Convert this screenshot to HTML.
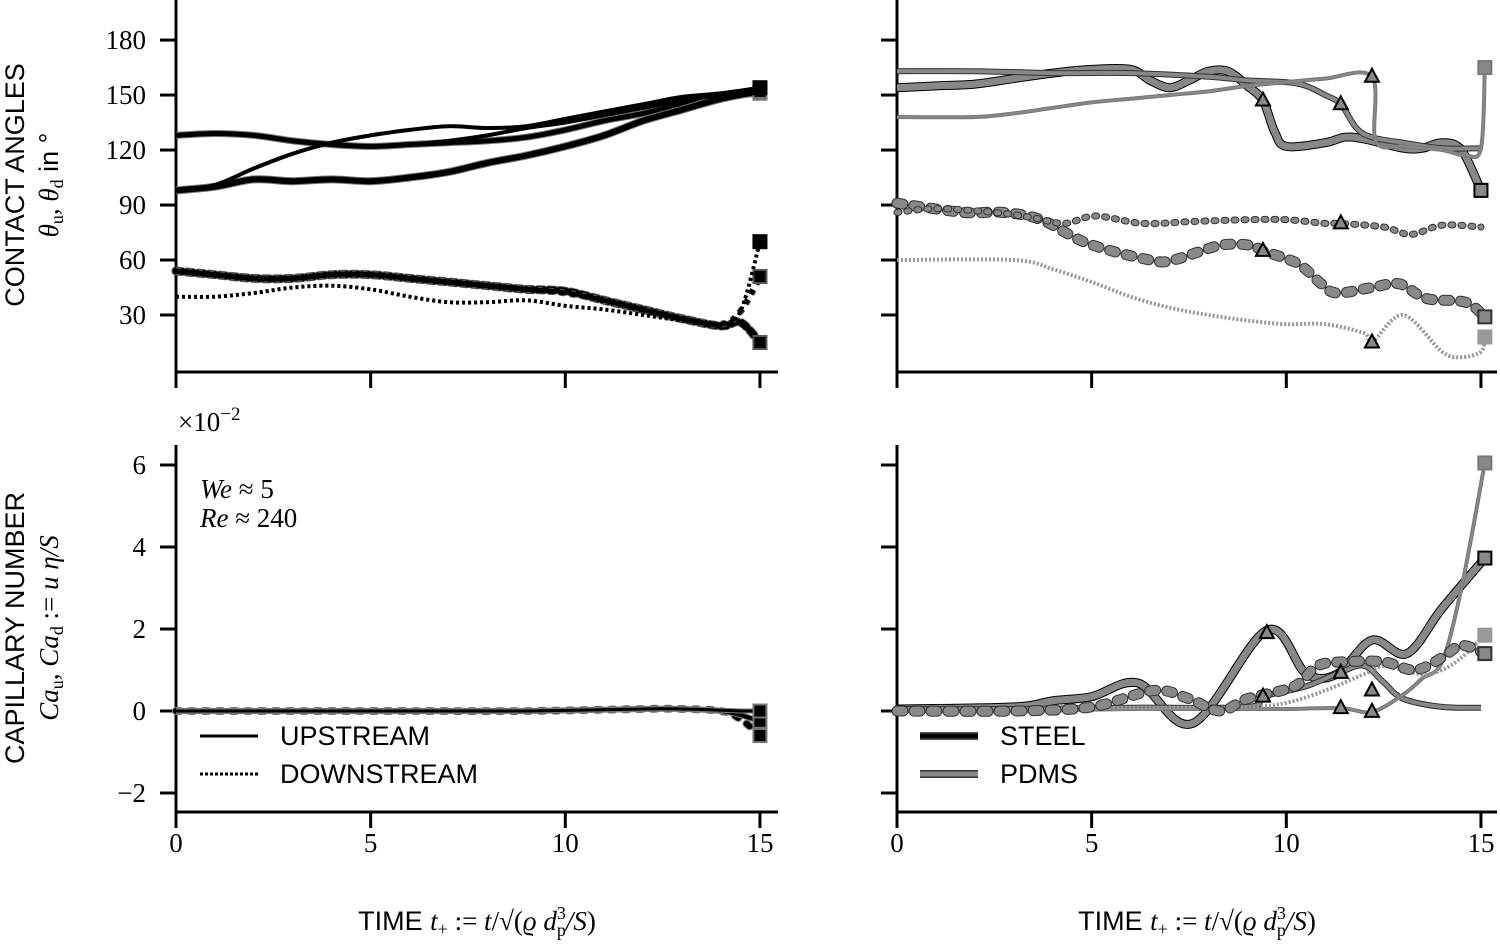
<!DOCTYPE html>
<html><head><meta charset="utf-8"><style>
html,body{margin:0;padding:0;background:#fff;}
svg{display:block;}
.tk{font-family:"Liberation Serif",serif;font-size:27px;fill:#000;}
.lb{font-family:"Liberation Sans",sans-serif;font-size:27px;fill:#000;}
.mt{font-family:"Liberation Serif",serif;font-size:27px;fill:#000;font-style:italic;}
</style></head><body>
<svg id="chart" width="1500" height="950" viewBox="0 0 1500 950" xmlns="http://www.w3.org/2000/svg">
<g id="axes"></g><g id="marks"></g>
<text class="lb" transform="translate(24,185) rotate(-90)" text-anchor="middle">CONTACT ANGLES</text>
<text class="mt" transform="translate(58,185) rotate(-90)" text-anchor="middle">θ<tspan font-style="normal" font-size="18" dy="5">u</tspan><tspan dy="-5">, θ</tspan><tspan font-style="normal" font-size="18" dy="5">d</tspan><tspan font-style="normal" dy="-5" font-family="Liberation Sans"> in °</tspan></text>
<text class="lb" transform="translate(24,628) rotate(-90)" text-anchor="middle">CAPILLARY NUMBER</text>
<text class="mt" transform="translate(58,628) rotate(-90)" text-anchor="middle">Ca<tspan font-style="normal" font-size="18" dy="5">u</tspan><tspan dy="-5">, Ca</tspan><tspan font-style="normal" font-size="18" dy="5">d</tspan><tspan dy="-5" font-style="normal"> := </tspan>u η/S</text>
<text class="tk" x="178" y="431">×10<tspan font-size="19" dy="-11">−2</tspan></text>
<text class="mt" x="200" y="498">We <tspan font-style="normal">≈ 5</tspan></text>
<text class="mt" x="200" y="527">Re <tspan font-style="normal">≈ 240</tspan></text>
<g>
<line x1="200" y1="736" x2="258" y2="736" stroke="#000" stroke-width="3"/>
<text class="lb" x="280" y="745">UPSTREAM</text>
<line x1="200" y1="774" x2="258" y2="774" stroke="#000" stroke-width="3" stroke-dasharray="3,2"/>
<text class="lb" x="280" y="783">DOWNSTREAM</text>
</g>
<g>
<line x1="920" y1="736" x2="978" y2="736" stroke="#555" stroke-width="8"/>
<line x1="920" y1="736" x2="978" y2="736" stroke="#000" stroke-width="5"/>
<text class="lb" x="1000" y="745">STEEL</text>
<line x1="920" y1="774" x2="978" y2="774" stroke="#333" stroke-width="8"/>
<line x1="920" y1="774" x2="978" y2="774" stroke="#888" stroke-width="5"/>
<text class="lb" x="1000" y="783">PDMS</text>
</g>
<text class="lb" x="477" y="930" text-anchor="middle">TIME <tspan font-family="Liberation Serif" font-style="italic">t</tspan><tspan font-family="Liberation Serif" font-size="18" dy="5">+</tspan><tspan font-family="Liberation Serif" dy="-5"> := </tspan><tspan font-family="Liberation Serif" font-style="italic">t</tspan><tspan font-family="Liberation Serif">/√(</tspan><tspan font-family="Liberation Serif" font-style="italic">ϱ d</tspan><tspan font-family="Liberation Serif" font-size="18" dy="-11">3</tspan><tspan font-family="Liberation Serif" font-size="18" dx="-9" dy="17">p</tspan><tspan font-family="Liberation Serif" font-style="italic" dy="-6">/S</tspan><tspan font-family="Liberation Serif">)</tspan></text>
<text class="lb" x="1197" y="930" text-anchor="middle">TIME <tspan font-family="Liberation Serif" font-style="italic">t</tspan><tspan font-family="Liberation Serif" font-size="18" dy="5">+</tspan><tspan font-family="Liberation Serif" dy="-5"> := </tspan><tspan font-family="Liberation Serif" font-style="italic">t</tspan><tspan font-family="Liberation Serif">/√(</tspan><tspan font-family="Liberation Serif" font-style="italic">ϱ d</tspan><tspan font-family="Liberation Serif" font-size="18" dy="-11">3</tspan><tspan font-family="Liberation Serif" font-size="18" dx="-9" dy="17">p</tspan><tspan font-family="Liberation Serif" font-style="italic" dy="-6">/S</tspan><tspan font-family="Liberation Serif">)</tspan></text>
</svg>
<script>
// ---- data ----
const xTicks = [0, 5, 10, 15];
const angleTicks = [30, 60, 90, 120, 150, 180];
const caTicks = [-2, 0, 2, 4, 6];
// left top (steel) angles
const lUpT1 = [0,1,2,3,4,5,6,7,8,9,10,11,12,13,14,15];
const lUpA = [128,129,128,125,123,122,123,124,125,127,131,136,140,145,149,151];
const lUpB = [98,100,104,103,104,103,105,108,113,117,122,128,136,142,148,152];
const lUpC = [98,101,110,118,124,128,131,133,132,133,137,141,145,149,151,154];
const lUpD = [128,129,128,125,123,122,123,125,128,132,135,139,143,147,150,153];
const lDnT = [0,1,2,3,4,5,6,7,8,9,10,11,12,13,14,14.5,15];
const lDnA = [54,52,50,50,52,52,50,48,46,44,43,38,33,28,24,26,15];
const lDnB = [54,52,50,50,52,52,50,48,46,44,42,38,33,28,25,32,51];
const lDnC = [40,40,42,45,46,44,40,37,37,38,35,33,30,27,25,32,70];
// right top
const rSUT = [0,1,2,3,4,5,6,6.5,7,7.5,8,8.5,9,9.4,9.7,10,11,11.5,12,13,13.5,14,14.5,15];
const rSUV = [154,155,156,159,162,164,164,158,154,158,163,163,155,147,130,122,124,127,126,121,121,124,120,98];
const rPUT = [0,2,4,6,8,9,10,10.5,11,11.4,11.8,12.2,13,14,15];
const rPUV = [163,163,162,162,160,158,157,155,150,145,132,127,124,121,121];
const rPU2T = [0,2,3,4,5,6,7,8,9,10,11,12.2,12.3,13,14,14.6,15,15.1];
const rPU2V = [138,138,140,143,146,148,150,152,155,157,159,160,125,122,120,117,121,165];
const rSDT = [0,1.7,2.7,3.7,4.9,6.5,7.1,8.3,9.1,9.4,10.3,10.9,11.3,12.2,12.9,13.6,14.6,15.1];
const rSDV = [91,86,86,82,69,60,60,68,68,65,58,47,42,45,47,39,37,29];
const rMDT = [0,1,2.5,3.5,4.3,5.1,6.3,7.6,9,10,11,11.4,12.5,13.2,14,15];
const rMDV = [86,88,86,83,80,84,80,81,82,82,80,80,78,74,79,78];
const rTDT = [0,3,4,5,6,7,8,9,10,11,12,12.2,13,14,14.5,15,15.1];
const rTDV = [60,60,55,48,40,34,30,27,25,25,20,15,30,10,7,10,18];
// left bottom Ca
const lCaT = [0,3,6,9,12,13,14,14.5,15];
const lCaA = [0,0,0,0,0.05,0.05,0,-0.2,-0.6];
const lCaB = [0,0,0,0,0.05,0.05,0,-0.1,-0.25];
const lCaC = [0,0,0,0,0.05,0.05,0.02,0,0];
// right bottom Ca
const rCaST = [0,3,4,5,6.2,7.6,9.5,10.5,11.3,12.2,13.1,14,15.1];
const rCaSV = [0.05,0.1,0.25,0.35,0.68,-0.3,1.97,0.92,0.9,1.73,1.4,2.5,3.73];
const rCaS2T = [0,3,6,9,9.4,10.5,11.4,12,12.5,13,14,15];
const rCaS2V = [0.05,0.05,0.08,0.1,0.35,0.6,0.95,1.1,0.7,0.3,0.1,0.08];
const rCaPT = [0,3,6,9,10,11.4,12.2,13,13.5,14,14.5,15.1];
const rCaPV = [0,0,0.05,0.05,0.05,0.07,-0.02,0.4,0.8,1.2,3,6.05];
const rCaPdT = [0,3,6,9,10,11,12,12.5,13,13.5,14,14.5,15.1];
const rCaPdV = [0,0.05,0.08,0.1,0.2,0.5,0.9,1.1,1.0,0.9,1.0,1.3,1.85];
const rCaDT = [0,3,5,6.6,7.5,8.3,9,10.2,10.8,11.5,12.5,13.3,14,14.5,15.1];
const rCaDV = [0,0,0.1,0.5,0.3,0.0,0.3,0.6,1.1,1.2,1.2,1.0,1.3,1.6,1.4];

const NS = "http://www.w3.org/2000/svg";
const axes = document.getElementById('axes'), marks = document.getElementById('marks');
function mk(tag, attrs, parent){const e=document.createElementNS(NS,tag);for(const k in attrs)e.setAttribute(k,attrs[k]);(parent||marks).appendChild(e);return e;}
const panels = {
  lt:{x0:176,x1:778,xs:38.93,top:0,bot:372,ys:1.833,yz:370,yticks:angleTicks,lab:true},
  rt:{x0:897,x1:1497,xs:38.93,top:0,bot:372,ys:1.833,yz:370,yticks:angleTicks,lab:false},
  lb:{x0:176,x1:778,xs:38.93,top:445,bot:812,ys:41,yz:711,yticks:caTicks,lab:true},
  rb:{x0:897,x1:1497,xs:38.93,top:445,bot:812,ys:41,yz:711,yticks:caTicks,lab:false}
};
function X(p,t){return p.x0+t*p.xs;}
function Y(p,v){return p.yz-v*p.ys;}
for(const key in panels){const p=panels[key];
  const g=mk('g',{},axes);
  
  
  mk('line',{x1:p.x0,y1:p.top,x2:p.x0,y2:p.bot+1.5,stroke:'#000','stroke-width':3},g);
  mk('line',{x1:p.x0-1.5,y1:p.bot,x2:p.x1,y2:p.bot,stroke:'#000','stroke-width':3},g);
  for(const v of p.yticks){const y=Y(p,v);
    mk('line',{x1:p.x0-16,y1:y,x2:p.x0,y2:y,stroke:'#000','stroke-width':3},g);
    if(p.lab){const t=mk('text',{x:p.x0-30,y:y+9,'text-anchor':'end',class:'tk'},g);t.textContent=v<0?'−'+(-v):v;}}
  for(const v of xTicks){const x=X(p,v);
    mk('line',{x1:x,y1:p.bot,x2:x,y2:p.bot+16,stroke:'#000','stroke-width':3},g);
    if(key==='lb'||key==='rb'){const t=mk('text',{x:x,y:p.bot+40,'text-anchor':'middle',class:'tk'},g);t.textContent=v;}}
}
function pathD(p,ts,vs){const pts=ts.map((t,i)=>[X(p,t),Y(p,vs[i])]);
  let d='M'+pts[0][0].toFixed(1)+','+pts[0][1].toFixed(1);
  for(let i=0;i<pts.length-1;i++){const p0=pts[i-1]||pts[i],p1=pts[i],p2=pts[i+1],p3=pts[i+2]||p2;
    const c1=[p1[0]+(p2[0]-p0[0])/6,p1[1]+(p2[1]-p0[1])/6],c2=[p2[0]-(p3[0]-p1[0])/6,p2[1]-(p3[1]-p1[1])/6];
    d+=' C'+c1.map(n=>n.toFixed(1))+' '+c2.map(n=>n.toFixed(1))+' '+p2[0].toFixed(1)+','+p2[1].toFixed(1);}
  return d;}
function series(name,p,ts,vs,w,fill,edge,dash,sq,cap){
  const g=mk('g',{});
  
  
  const d=pathD(p,ts,vs);
  cap=cap||'butt';
  mk('path',{d:d,fill:'none',stroke:edge,'stroke-width':w+2,'stroke-dasharray':dash||'none','stroke-linecap':cap,'stroke-linejoin':'round'},g);
  mk('path',{d:d,fill:'none',stroke:fill,'stroke-width':w,'stroke-dasharray':dash||'none','stroke-linecap':cap,'stroke-linejoin':'round'},g);
  if(sq){const n=ts.length-1,x=X(p,ts[n]),y=Y(p,vs[n]);
    mk('rect',{x:x-6.5,y:y-6.5,width:13,height:13,fill:fill,stroke:edge,'stroke-width':2},g);}
  return g;}
function tri(name,p,t,v){const x=X(p,t),y=Y(p,v);
  const e=mk('path',{d:`M${x},${y-8} L${x+7},${y+5} L${x-7},${y+5} Z`,fill:'#888',stroke:'#000','stroke-width':2});
  
  }
const K='#000',G='#888',E='#333',L='#777';
// left top
series('upstream-a',panels.lt,lUpT1,lUpA,5,K,L,null,true);
series('upstream-b',panels.lt,lUpT1,lUpB,6,K,L,null,true);
series('upstream-c',panels.lt,lUpT1,lUpC,2,K,K,null,true);
series('upstream-d',panels.lt,lUpT1,lUpD,2,K,K,null,false);
series('downstream-a',panels.lt,lDnT,lDnA,7,K,'#555','6,5',true,'round');
series('downstream-b',panels.lt,lDnT,lDnB,5,K,'#555','5,6',true);
series('downstream-c',panels.lt,lDnT,lDnC,2,K,K,'3,3',true);
// right top
series('steel-upstream',panels.rt,rSUT,rSUV,7,G,K,null,true);
series('pdms-upstream',panels.rt,rPUT,rPUV,4,G,E,null,false);
series('pdms-upstream-thin',panels.rt,rPU2T,rPU2V,2,G,L,null,true);
series('steel-downstream',panels.rt,rSDT,rSDV,9,G,E,'6,11',true,'round');
series('pdms-downstream',panels.rt,rMDT,rMDV,5,G,E,'2,8',false,'round');
series('pdms-downstream-thin',panels.rt,rTDT,rTDV,2,'#999','#999','2,2',true);
tri('rt-marker-1',panels.rt,9.4,147);tri('rt-marker-2',panels.rt,11.4,145);tri('rt-marker-3',panels.rt,12.2,160);
tri('rt-marker-4',panels.rt,9.4,65);tri('rt-marker-5',panels.rt,11.4,80);tri('rt-marker-6',panels.rt,12.2,15);
// left bottom
series('ca-a',panels.lb,lCaT,lCaA,6,K,L,'4,10',true,'round');
series('ca-b',panels.lb,lCaT,lCaB,4,K,L,null,true);
series('ca-c',panels.lb,lCaT,lCaC,3,K,L,null,true);
// right bottom
series('ca-steel-up',panels.rb,rCaST,rCaSV,7,G,K,null,true);
series('ca-steel-up-thin',panels.rb,rCaS2T,rCaS2V,4,G,E,null,false);
series('ca-pdms-up',panels.rb,rCaPT,rCaPV,2,G,L,null,true);
series('ca-pdms-down',panels.rb,rCaPdT,rCaPdV,2,'#999','#999','2,2',true);
series('ca-steel-down',panels.rb,rCaDT,rCaDV,9,G,E,'6,11',true,'round');
tri('rb-marker-1',panels.rb,9.5,1.9);tri('rb-marker-2',panels.rb,9.4,0.35);tri('rb-marker-3',panels.rb,11.4,0.93);
tri('rb-marker-4',panels.rb,12.2,0.5);tri('rb-marker-5',panels.rb,11.4,0.07);tri('rb-marker-6',panels.rb,12.2,-0.02);
</script>
</body></html>
